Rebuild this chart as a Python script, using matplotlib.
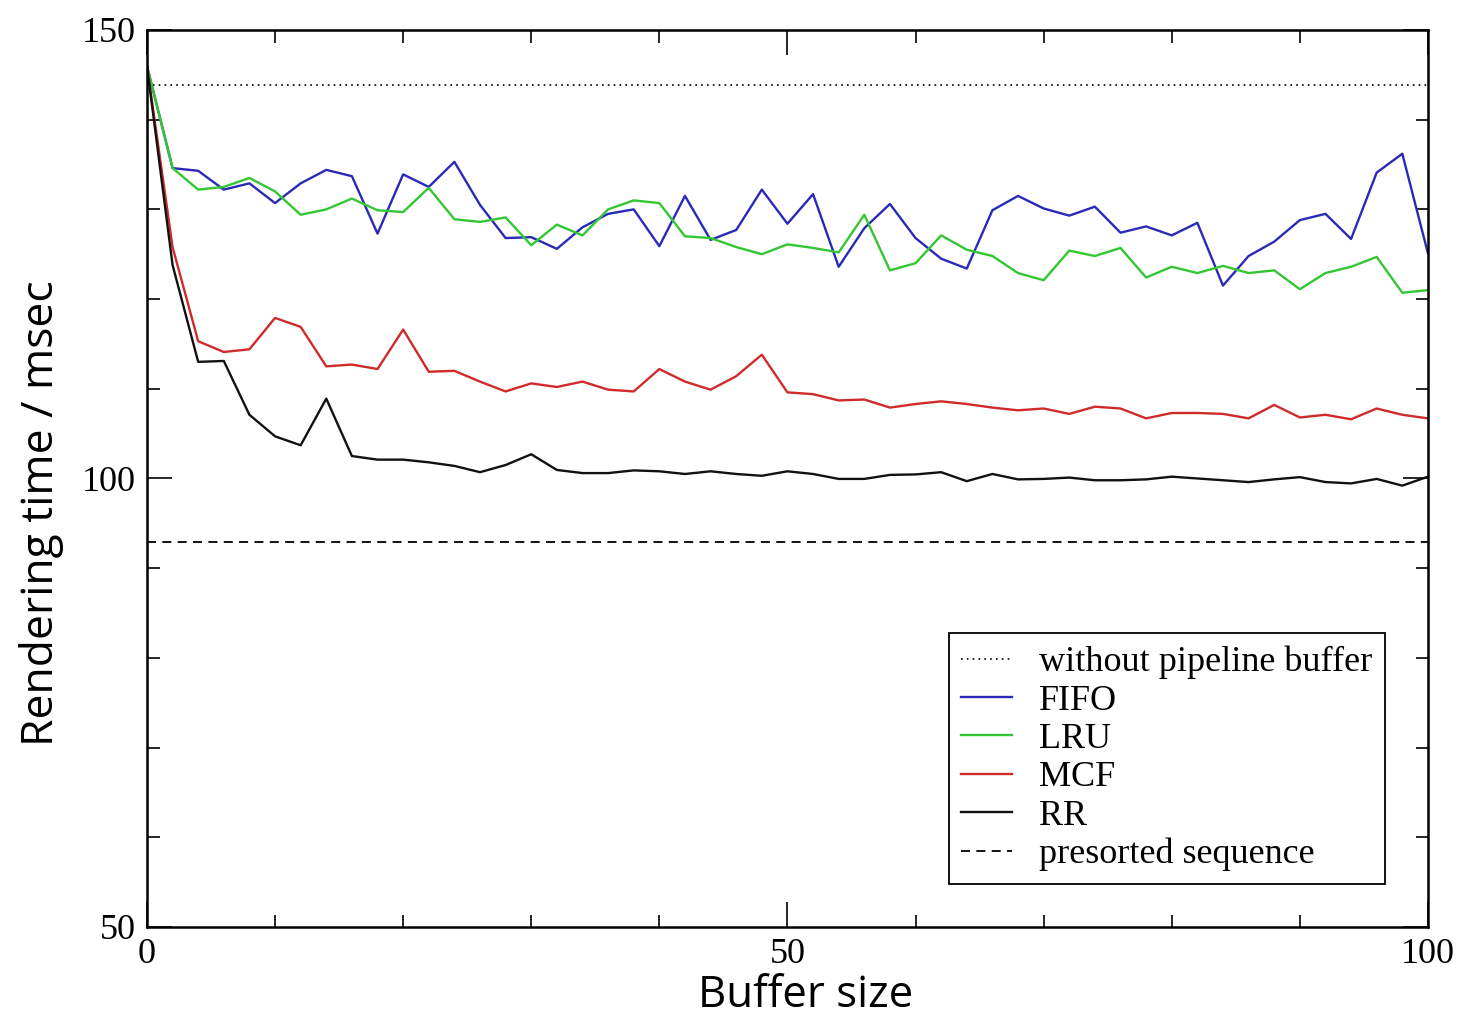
import matplotlib
matplotlib.use("Agg")
import matplotlib.pyplot as plt
from matplotlib.ticker import MultipleLocator

# Buffer sizes (every 2 entries)
buffer_size = list(range(0, 101, 2))

fifo = [146.0, 134.6, 134.3, 132.2, 132.9, 130.7, 132.9, 134.4, 133.7, 127.3,
        133.9, 132.5, 135.3, 130.5, 126.8, 126.9, 125.6, 128.0, 129.5, 130.0,
        125.9, 131.5, 126.6, 127.7, 132.2, 128.4, 131.7, 123.6, 127.9, 130.6,
        126.8, 124.5, 123.4, 129.9, 131.5, 130.1, 129.3, 130.3, 127.4, 128.1,
        127.1, 128.5, 121.5, 124.8, 126.4, 128.8, 129.5, 126.7, 134.1, 136.2,
        125.1]

lru = [146.0, 134.6, 132.2, 132.5, 133.5, 132.0, 129.4, 130.0, 131.2, 129.9,
       129.7, 132.4, 128.9, 128.6, 129.1, 126.0, 128.3, 127.1, 130.0, 131.0,
       130.7, 127.0, 126.8, 125.8, 125.0, 126.1, 125.7, 125.2, 129.4, 123.2,
       124.0, 127.1, 125.5, 124.8, 122.9, 122.1, 125.4, 124.8, 125.7, 122.4,
       123.6, 122.9, 123.7, 122.9, 123.2, 121.1, 122.9, 123.6, 124.7, 120.7,
       121.0]

mcf = [146.0, 125.8, 115.3, 114.1, 114.4, 117.9, 116.9, 112.5, 112.7, 112.2,
       116.6, 111.9, 112.0, 110.8, 109.7, 110.6, 110.2, 110.8, 109.9, 109.7,
       112.2, 110.8, 109.9, 111.4, 113.8, 109.6, 109.4, 108.7, 108.8, 107.9,
       108.3, 108.6, 108.3, 107.9, 107.6, 107.8, 107.2, 108.0, 107.8, 106.7,
       107.3, 107.3, 107.2, 106.7, 108.2, 106.8, 107.1, 106.6, 107.8, 107.1,
       106.7]

rr = [146.0, 123.8, 113.0, 113.1, 107.1, 104.7, 103.7, 108.9, 102.5, 102.1,
      102.1, 101.8, 101.4, 100.7, 101.5, 102.7, 100.95, 100.6, 100.6, 100.9,
      100.8, 100.5, 100.8, 100.5, 100.3, 100.8, 100.5, 99.95, 99.95, 100.4,
      100.45, 100.7, 99.7, 100.5, 99.9, 99.95, 100.1, 99.8, 99.8, 99.9,
      100.2, 100.0, 99.8, 99.6, 99.9, 100.15, 99.6, 99.45, 99.95, 99.2,
      100.2]

without_buffer = 143.9
presorted = 92.9

serif = ["Liberation Serif", "DejaVu Serif"]
sans = ["Open Sans", "DejaVu Sans"]

fig = plt.figure(figsize=(14.65, 10.19), dpi=100)
ax = fig.add_axes([0.1003, 0.0903, 0.8744, 0.8803])

ax.axhline(without_buffer, color="black", lw=1.2, ls=(0, (1, 2.5)),
           label="without pipeline buffer")
ax.plot(buffer_size, fifo, color="#2a2ab8", lw=1.7, label="FIFO")
ax.plot(buffer_size, lru, color="#33c633", lw=1.7, label="LRU")
ax.plot(buffer_size, mcf, color="#d02a2a", lw=1.7, label="MCF")
ax.plot(buffer_size, rr, color="#111111", lw=1.7, label="RR")
ax.axhline(presorted, color="black", lw=1.3, ls=(0, (5, 3.5)),
           label="presorted sequence")

ax.set_xlim(0, 100)
ax.set_ylim(50, 150)
ax.xaxis.set_major_locator(MultipleLocator(50))
ax.xaxis.set_minor_locator(MultipleLocator(10))
ax.yaxis.set_major_locator(MultipleLocator(50))
ax.yaxis.set_minor_locator(MultipleLocator(10))
ax.tick_params(which="both", direction="in", top=True, right=True,
               width=1.2, color="black")
ax.tick_params(which="major", length=18)
ax.tick_params(which="minor", length=9)
ax.tick_params(axis="both", which="major", labelsize=26, pad=8)
for lab in ax.get_xticklabels() + ax.get_yticklabels():
    lab.set_fontfamily(serif)

for sp in ax.spines.values():
    sp.set_linewidth(1.8)

ax.set_xlabel("Buffer size", fontsize=31.5, family=sans, labelpad=0)
ax.xaxis.set_label_coords(0.5144, -0.052, transform=ax.transAxes)
ax.xaxis.label.set_va("top")
ax.set_ylabel("Rendering time / msec", fontsize=32, family=sans)
ax.yaxis.label.set_va("center")
ax.yaxis.set_label_coords(-0.082, 0.4615, transform=ax.transAxes)

leg = ax.legend(loc="lower right", bbox_to_anchor=(0.9665, 0.048),
                prop={"family": serif, "size": 26}, frameon=True,
                fancybox=False, edgecolor="black", framealpha=1,
                handlelength=1.4, handletextpad=0.75, labelspacing=0.14,
                borderpad=0.35, borderaxespad=0)
leg.get_frame().set_linewidth(1.3)

fig.savefig("out.png", dpi=100)
